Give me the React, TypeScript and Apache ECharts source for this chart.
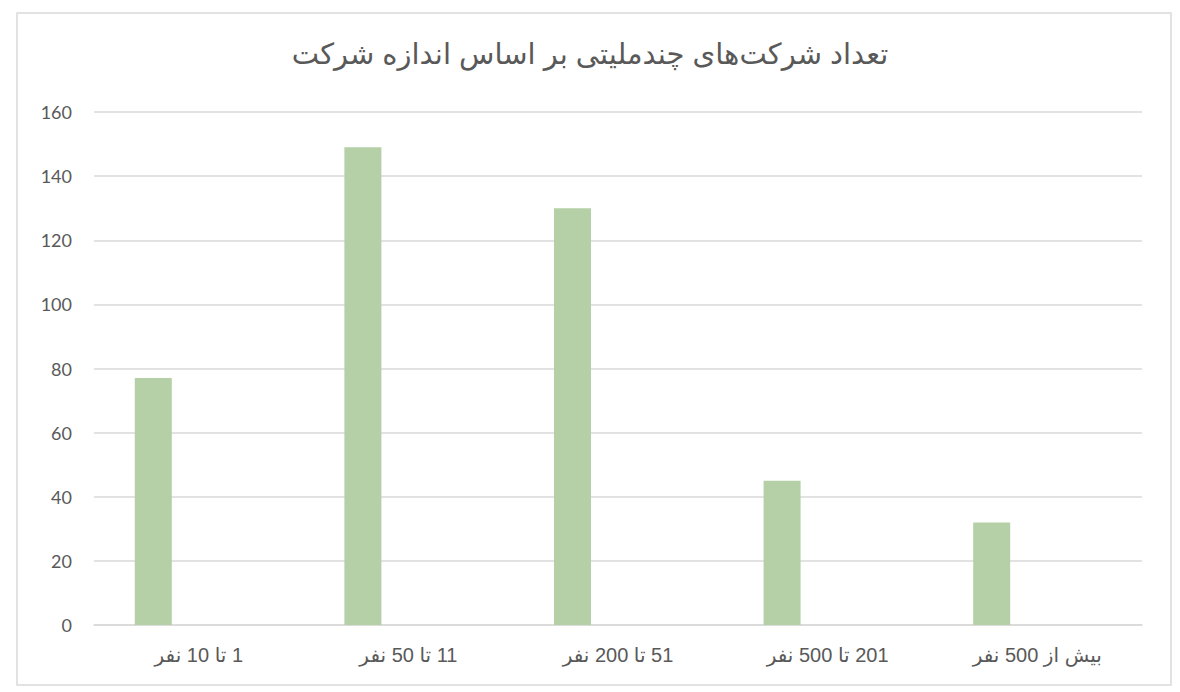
import { useEffect, useRef } from "react";
import * as echarts from "echarts";

const title = "تعداد شرکت‌های چندملیتی بر اساس اندازه شرکت";
const categories = ["1 تا 10 نفر", "11 تا 50 نفر", "51 تا 200 نفر", "201 تا 500 نفر", "بیش از 500 نفر"];
const companyCounts = [77, 149, 130, 45, 32];
// Excel kept an empty second series, which pushes each bar to the left of its slot
const emptySeries: (number | null)[] = [null, null, null, null, null];

const TEXT = "#595959";
const GRID = "#d9d9d9";
const BAR = "#b5cfa7";

export default function App() {
  const chartEl = useRef<HTMLDivElement>(null);

  useEffect(() => {
    document.body.style.margin = "0";
    const el = chartEl.current;
    if (!el) return;
    const chart = echarts.init(el, undefined, { renderer: "svg" });

    chart.setOption({
      animation: false,
      graphic: [
        {
          type: "rect",
          shape: { x: 17, y: 13, width: 1154, height: 672 },
          style: { fill: "none", stroke: GRID, lineWidth: 1.5 },
          silent: true,
        },
      ],
      title: {
        text: title,
        left: "center",
        top: 34,
        textStyle: {
          color: TEXT,
          fontSize: 29,
          fontWeight: "normal",
          fontFamily: "Liberation Sans, DejaVu Sans, sans-serif",
        },
      },
      grid: { left: 94, right: 38, top: 112, bottom: 67 },
      xAxis: {
        type: "category",
        data: categories,
        axisLine: { lineStyle: { color: GRID, width: 1.5 } },
        axisTick: { show: false },
        axisLabel: {
          color: TEXT,
          fontSize: 20,
          margin: 20,
          fontFamily: "Liberation Sans, DejaVu Sans, sans-serif",
          // right-to-left mark so the number sits on the right, as in Persian
          formatter: (v: string) => "\u200F" + v,
        },
      },
      yAxis: {
        type: "value",
        min: 0,
        max: 160,
        interval: 20,
        axisLine: { show: false },
        axisTick: { show: false },
        axisLabel: {
          color: TEXT,
          fontSize: 18,
          margin: 22,
          fontFamily: "Lato, Carlito, sans-serif",
        },
        splitLine: { lineStyle: { color: GRID, width: 1.5 } },
      },
      series: [
        {
          type: "bar",
          data: companyCounts,
          barWidth: 37,
          barGap: "146%",
          itemStyle: { color: BAR },
        },
        {
          type: "bar",
          data: emptySeries,
          barWidth: 37,
          itemStyle: { color: BAR },
        },
      ],
    });

    return () => chart.dispose();
  }, []);

  return <div ref={chartEl} style={{ width: 1180, height: 692, background: "#fff" }} />;
}
